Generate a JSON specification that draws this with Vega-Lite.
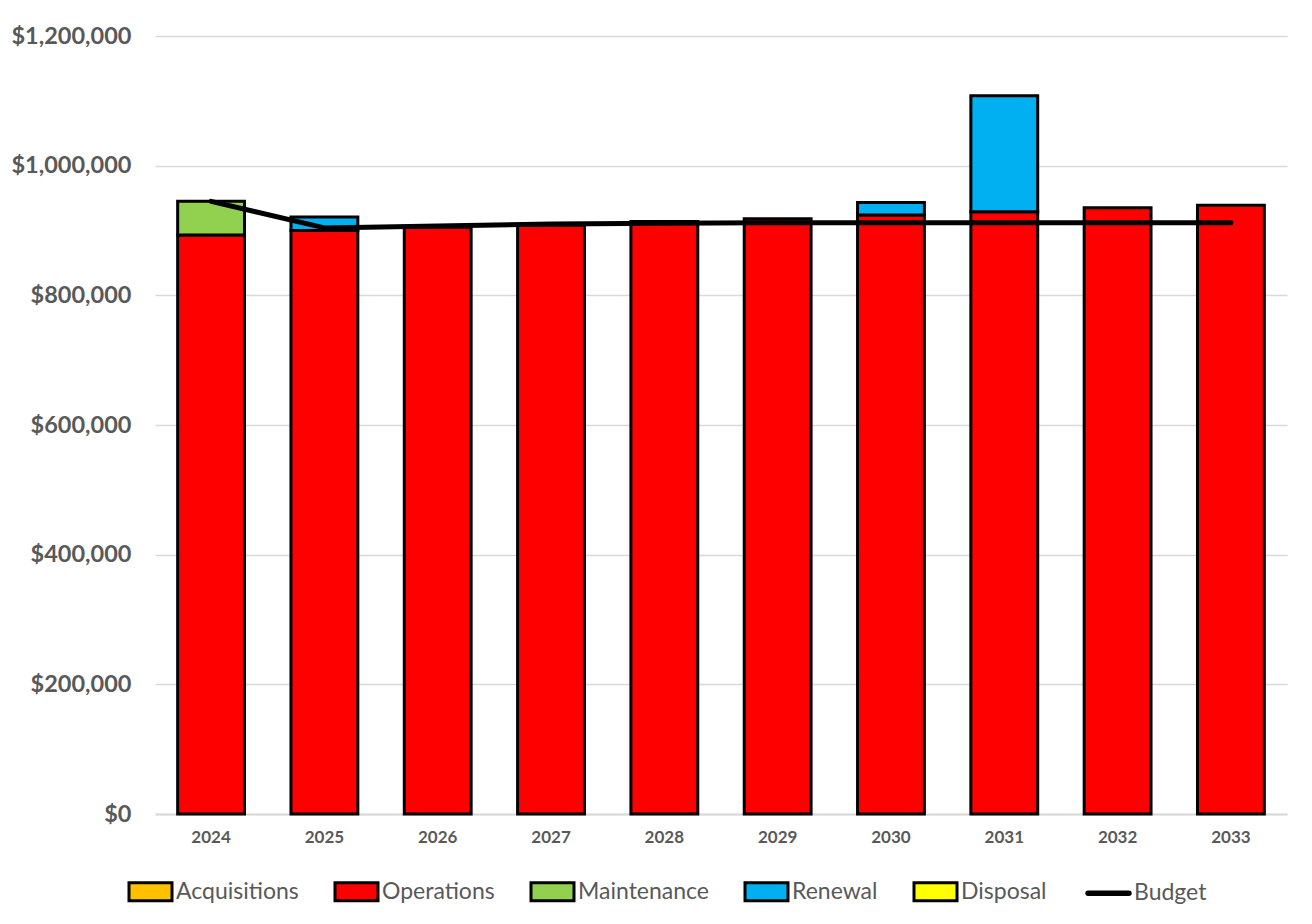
{
  "$schema": "https://vega.github.io/schema/vega-lite/v6.json",
  "autosize": "none",
  "width": 1132,
  "height": 778,
  "padding": {"left": 155, "top": 36, "right": 25, "bottom": 110},
  "background": "white",
  "config": {
    "view": {"stroke": null},
    "font": "Lato"
  },
  "datasets": {
    "bars": [
      {"year": "2024", "category": "Operations", "ord": 1, "value": 893000},
      {"year": "2024", "category": "Maintenance", "ord": 2, "value": 52000},
      {"year": "2025", "category": "Operations", "ord": 1, "value": 900000},
      {"year": "2025", "category": "Renewal", "ord": 3, "value": 21000},
      {"year": "2026", "category": "Operations", "ord": 1, "value": 905000},
      {"year": "2027", "category": "Operations", "ord": 1, "value": 908000},
      {"year": "2028", "category": "Operations", "ord": 1, "value": 914000},
      {"year": "2029", "category": "Operations", "ord": 1, "value": 918000},
      {"year": "2030", "category": "Operations", "ord": 1, "value": 924000},
      {"year": "2030", "category": "Renewal", "ord": 3, "value": 19000},
      {"year": "2031", "category": "Operations", "ord": 1, "value": 929000},
      {"year": "2031", "category": "Renewal", "ord": 3, "value": 179000},
      {"year": "2032", "category": "Operations", "ord": 1, "value": 935000},
      {"year": "2033", "category": "Operations", "ord": 1, "value": 939000}
    ],
    "budget": [
      {"year": "2024", "budget": 945000},
      {"year": "2025", "budget": 904000},
      {"year": "2026", "budget": 907000},
      {"year": "2027", "budget": 910000},
      {"year": "2028", "budget": 911000},
      {"year": "2029", "budget": 912000},
      {"year": "2030", "budget": 912000},
      {"year": "2031", "budget": 912000},
      {"year": "2032", "budget": 912000},
      {"year": "2033", "budget": 912000}
    ]
  },
  "encoding": {
    "x": {
      "field": "year",
      "type": "ordinal",
      "scale": {"paddingInner": 0.41, "paddingOuter": 0.2},
      "axis": {
        "title": null,
        "labelAngle": 0,
        "labelFont": "Lato",
        "labelFontWeight": "bold",
        "labelFontSize": 17,
        "labelColor": "#595959",
        "labelPadding": 15,
        "ticks": false,
        "domainColor": "#d9d9d9",
        "domainWidth": 2
      }
    }
  },
  "layer": [
    {
      "data": {"name": "bars"},
      "mark": {"type": "bar", "stroke": "black", "strokeWidth": 3},
      "encoding": {
        "y": {
          "field": "value",
          "type": "quantitative",
          "aggregate": "sum",
          "stack": "zero",
          "scale": {"domain": [0, 1200000], "nice": false},
          "axis": {
            "title": null,
            "values": [0, 200000, 400000, 600000, 800000, 1000000, 1200000],
            "format": "$,.0f",
            "labelFont": "Lato",
            "labelFontWeight": "bold",
            "labelFontSize": 23.5,
            "labelColor": "#595959",
            "labelPadding": 24,
            "ticks": false,
            "domain": false,
            "gridColor": "#d9d9d9",
            "gridWidth": 1.5
          }
        },
        "color": {
          "field": "category",
          "type": "nominal",
          "scale": {
            "domain": ["Acquisitions", "Operations", "Maintenance", "Renewal", "Disposal", "Budget"],
            "range": ["#ffc000", "#ff0000", "#92d050", "#00b0f0", "#ffff00", "#000000"]
          },
          "legend": {
            "title": null,
            "orient": "none",
            "legendX": -16,
            "legendY": 844,
            "direction": "horizontal",
            "labelFont": "Lato",
            "labelFontSize": 23,
            "labelColor": "#595959",
            "labelOffset": 14,
            "columnPadding": 30,
            "symbolSize": 1849,
            "symbolStrokeWidth": 3,
            "symbolStrokeColor": "black",
            "encode": {
              "symbols": {
                "update": {
                  "shape": {"signal": "datum.value === 'Budget' ? 'M-0.95,0H0.95' : 'M-1,-0.42H1V0.42H-1Z'"},
                  "strokeWidth": {"signal": "datum.value === 'Budget' ? 5.5 : 3"},
                  "strokeCap": {"value": "round"},
                  "stroke": {"value": "black"},
                  "size": {"value": 1849}
                }
              }
            }
          }
        },
        "order": {"field": "ord", "type": "quantitative"}
      }
    },
    {
      "data": {"name": "budget"},
      "mark": {"type": "line", "color": "black", "strokeWidth": 5, "strokeCap": "round", "strokeJoin": "round"},
      "encoding": {
        "y": {"field": "budget", "type": "quantitative"}
      }
    }
  ]
}
